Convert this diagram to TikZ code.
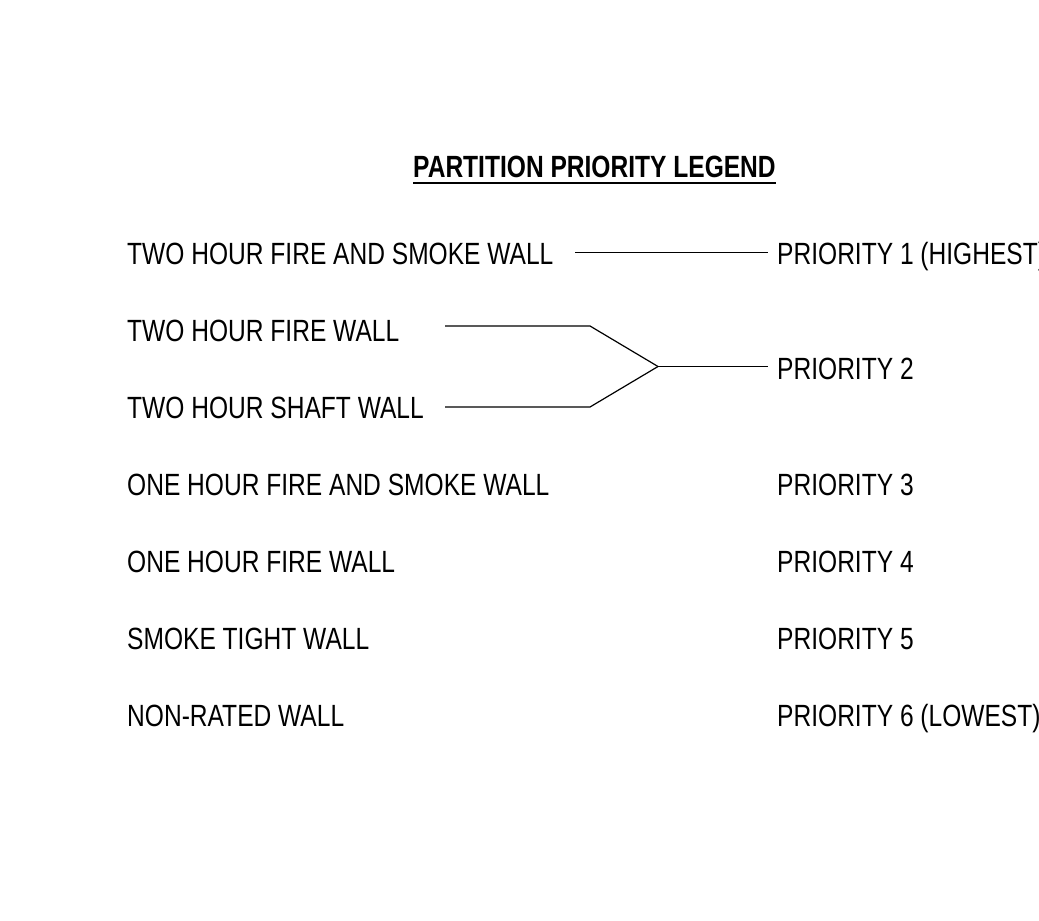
\documentclass[tikz,border=0pt]{standalone}
\usepackage{fontspec}
\setmainfont{Liberation Sans}[FakeStretch=0.80]
\begin{document}
\begin{tikzpicture}[x=1pt,y=-1pt,
  lbl/.style={anchor=base west,inner sep=0pt,font=\fontsize{30.7}{36}\selectfont},
  ttl/.style={anchor=base west,inner sep=0pt,font=\fontsize{30.7}{36}\selectfont\bfseries},
  conn/.style={line width=1.2pt}]
\clip (0,0) rectangle (1039,921);
\fill[white] (0,0) rectangle (1039,921);
% title
\node[ttl] (title) at (413,177) {PARTITION PRIORITY LEGEND};
\draw[line width=2.2pt] (title.base west) ++(0,6) -- ([yshift=-6pt]title.base east);
% left column
\node[lbl] (w1) at (127,264) {TWO HOUR FIRE AND SMOKE WALL};
\node[lbl] (w2) at (127,341.5) {TWO HOUR FIRE WALL};
\node[lbl] (w3) at (127,418.5) {TWO HOUR SHAFT WALL};
\node[lbl] (w4) at (127,495.5) {ONE HOUR FIRE AND SMOKE WALL};
\node[lbl] (w5) at (127,572.5) {ONE HOUR FIRE WALL};
\node[lbl] (w6) at (127,649) {SMOKE TIGHT WALL};
\node[lbl] (w7) at (127,726) {NON-RATED WALL};
% right column
\node[lbl] (p1) at (777,264) {PRIORITY 1 (HIGHEST)};
\node[lbl] (p2) at (777,379.5) {PRIORITY 2};
\node[lbl] (p3) at (777,495.5) {PRIORITY 3};
\node[lbl] (p4) at (777,572.5) {PRIORITY 4};
\node[lbl] (p5) at (777,649) {PRIORITY 5};
\node[lbl] (p6) at (777,726) {PRIORITY 6 (LOWEST)};
% connector coordinates
\coordinate (a1) at (575,252.5);
\coordinate (b1) at (768,252.5);
\coordinate (a2) at (445,326);
\coordinate (k2) at (590,326);
\coordinate (a3) at (445,407);
\coordinate (k3) at (590,407);
\coordinate (tip) at (658,366.5);
\coordinate (b2) at (768,366.5);
% connectors
\draw[conn] (a1) -- (b1);
\draw[conn] (a2) -- (k2) -- (tip);
\draw[conn] (a3) -- (k3) -- (tip);
\draw[conn] (tip) -- (b2);
\end{tikzpicture}
\end{document}
